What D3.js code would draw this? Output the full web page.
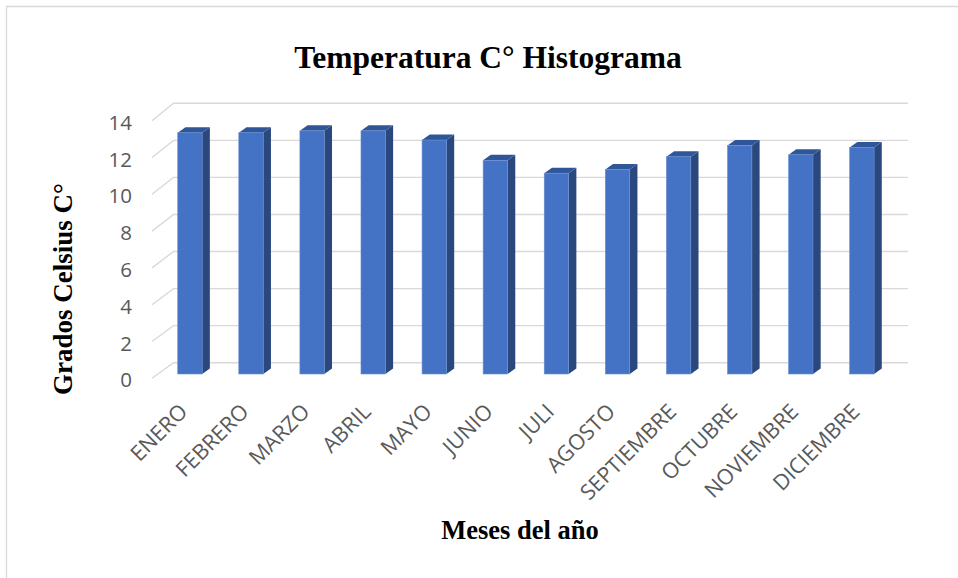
<!DOCTYPE html>
<html>
<head>
<meta charset="utf-8">
<script src="https://cdn.jsdelivr.net/npm/d3@7"></script>
<style>
  html, body { margin: 0; padding: 0; background: #ffffff; }
  svg { display: block; }
</style>
</head>
<body>
<script>
// ---- data ----
const categories = ["ENERO", "FEBRERO", "MARZO", "ABRIL", "MAYO", "JUNIO", "JULI", "AGOSTO", "SEPTIEMBRE", "OCTUBRE", "NOVIEMBRE", "DICIEMBRE"];
const temps = [13.1, 13.1, 13.2, 13.2, 12.7, 11.6, 10.9, 11.1, 11.8, 12.4, 11.9, 12.3];
const yTicks = [0, 2, 4, 6, 8, 10, 12, 14];
const titleText = "Temperatura C° Histograma";
const yTitleText = "Grados Celsius C°";
const xTitleText = "Meses del año";

const W = 958, H = 578;
const svg = d3.select("body").append("svg").attr("width", W).attr("height", H);

// chart border (left + top visible)
svg.append("path")
  .attr("d", `M6.5,${H} L6.5,6.5 L${W},6.5`)
  .attr("fill", "none").attr("stroke", "#d9d9d9").attr("stroke-width", 1.3);

// ---- scales ----
const x = d3.scaleBand().domain(categories).range([159.4, 892.4]).paddingInner(0.6).paddingOuter(0.3);
const yFront = d3.scaleLinear().domain([0, 14]).range([378.3, 120.7]);
const yBack = d3.scaleLinear().domain([0, 14]).range([362.7, 103.3]);
const yBar = d3.scaleLinear().domain([0, 14]).range([374, 116.1]);

const frontX = 152, backX = 173.5, backEnd = 908;

// gridlines (3D: floor-edge diagonal + back wall)
const grid = svg.append("g");
grid.selectAll("path").data(yTicks).join("path")
  .attr("d", d => `M${frontX},${yFront(d)} L${backX},${yBack(d)} L${backEnd},${yBack(d)}`)
  .attr("fill", "none").attr("stroke", "#d9d9d9").attr("stroke-width", 1.4);

// y tick labels
svg.append("g").selectAll("text").data(yTicks).join("text")
  .attr("x", 132).attr("y", d => yFront(d) + 1)
  .attr("text-anchor", "end").attr("dominant-baseline", "central")
  .attr("font-family", "'Open Sans', sans-serif").attr("font-size", 20.5)
  .attr("fill", "#595959")
  .text(d => d);

// bars
const dx = 7.7, dy = -5.5;
const bw = x.bandwidth();
const bars = svg.append("g").selectAll("g").data(categories.map((c, i) => ({ c, v: temps[i] }))).join("g");
bars.append("polygon") // side
  .attr("points", d => {
    const x0 = x(d.c) + bw, yt = yBar(d.v), yb = yBar(0);
    return `${x0},${yt} ${x0 + dx},${yt + dy} ${x0 + dx},${yb + dy} ${x0},${yb}`;
  })
  .attr("fill", "#2A487E");
bars.append("polygon") // top
  .attr("points", d => {
    const x0 = x(d.c), yt = yBar(d.v);
    return `${x0},${yt} ${x0 + dx},${yt + dy} ${x0 + bw + dx},${yt + dy} ${x0 + bw},${yt}`;
  })
  .attr("fill", "#30569A");
bars.append("rect") // front
  .attr("x", d => x(d.c)).attr("y", d => yBar(d.v))
  .attr("width", bw).attr("height", d => yBar(0) - yBar(d.v))
  .attr("fill", "#4472C4").attr("stroke", "#6a8fd3").attr("stroke-width", 0.6);

// category labels
svg.append("g").selectAll("text").data(categories).join("text")
  .attr("transform", d => `translate(${x(d) + bw / 2 - 1},413) rotate(-45)`)
  .attr("text-anchor", "end")
  .attr("font-family", "'Open Sans', sans-serif").attr("font-size", 21.5)
  .attr("fill", "#595959")
  .text(d => d);

// titles
svg.append("text")
  .attr("x", 488).attr("y", 68).attr("text-anchor", "middle")
  .attr("font-family", "'Liberation Serif', 'Times New Roman', serif")
  .attr("font-weight", "bold").attr("font-size", 31.5).attr("fill", "#000")
  .text(titleText);

svg.append("text")
  .attr("transform", "translate(72,289) rotate(-90)").attr("text-anchor", "middle")
  .attr("font-family", "'Liberation Serif', 'Times New Roman', serif")
  .attr("font-weight", "bold").attr("font-size", 27).attr("fill", "#000")
  .text(yTitleText);

svg.append("text")
  .attr("x", 520).attr("y", 538.5).attr("text-anchor", "middle")
  .attr("font-family", "'Liberation Serif', 'Times New Roman', serif")
  .attr("font-weight", "bold").attr("font-size", 26.5).attr("fill", "#000")
  .text(xTitleText);
</script>
</body>
</html>
